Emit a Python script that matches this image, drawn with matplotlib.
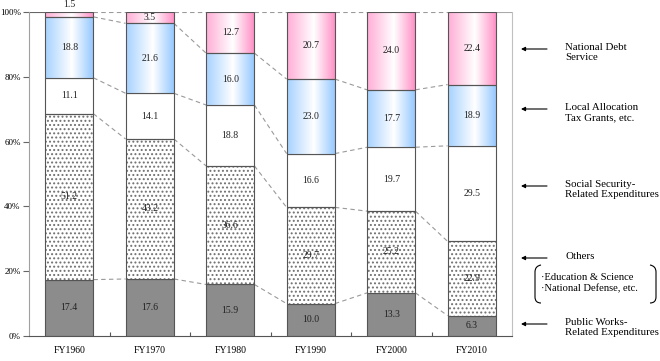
import numpy as np
import matplotlib
matplotlib.use('Agg')
import matplotlib.pyplot as plt
from matplotlib.colors import LinearSegmentedColormap
from matplotlib.path import Path
from matplotlib.patches import PathPatch

categories = ['FY1960', 'FY1970', 'FY1980', 'FY1990', 'FY2000', 'FY2010']
public_works = [17.4, 17.6, 15.9, 10.0, 13.3, 6.3]
others = [51.2, 43.2, 36.6, 29.7, 25.2, 22.9]
social_security = [11.1, 14.1, 18.8, 16.6, 19.7, 29.5]
local_allocation = [18.8, 21.6, 16.0, 23.0, 17.7, 18.9]
debt_service = [1.5, 3.5, 12.7, 20.7, 24.0, 22.4]
yticks = [0, 20, 40, 60, 80, 100]
legend_labels = ['National Debt\nService', 'Local Allocation\nTax Grants, etc.',
                 'Social Security-\nRelated Expenditures', 'Others',
                 'Public Works-\nRelated Expenditures']
others_detail = ['·Education & Science', '·National Defense, etc.']

plt.rcParams['font.family'] = ['Liberation Serif', 'DejaVu Serif']
plt.rcParams['hatch.linewidth'] = 0.9

fig = plt.figure(figsize=(6.6, 3.61), dpi=100)
ax = fig.add_axes([29 / 660, 25 / 361, 483 / 660, 324 / 361])

x = np.arange(len(categories))
w = 0.6
data = np.array([public_works, others, social_security, local_allocation, debt_service])
pct = data / data.sum(axis=0) * 100
tops = np.cumsum(pct, axis=0)
bottoms = tops - pct

edge = '#555555'
blue_cmap = LinearSegmentedColormap.from_list('b', [(0, '#a6d2ff'), (0.55, '#ffffff'), (1, '#92c6ff')])
pink_cmap = LinearSegmentedColormap.from_list('p', [(0, '#ffadd6'), (0.55, '#ffffff'), (1, '#ff8cc4')])
grad = np.linspace(0, 1, 256).reshape(1, -1)

# Public works (gray)
ax.bar(x, pct[0], w, bottom=bottoms[0], color='#8c8c8c', edgecolor=edge, linewidth=0.8, zorder=2)
# Others (dotted)
ax.bar(x, pct[1], w, bottom=bottoms[1], color='white', hatch='....', edgecolor='#707070', linewidth=0, zorder=2)
ax.bar(x, pct[1], w, bottom=bottoms[1], fill=False, edgecolor=edge, linewidth=0.8, zorder=3)
# Social security (white)
ax.bar(x, pct[2], w, bottom=bottoms[2], color='white', edgecolor=edge, linewidth=0.8, zorder=2)
# Gradients
for k, cmap in [(3, blue_cmap), (4, pink_cmap)]:
    for i in range(len(x)):
        ax.imshow(grad, extent=[x[i] - w / 2, x[i] + w / 2, bottoms[k, i], tops[k, i]],
                  aspect='auto', cmap=cmap, interpolation='bilinear', zorder=2)
    ax.bar(x, pct[k], w, bottom=bottoms[k], fill=False, edgecolor=edge, linewidth=0.8, zorder=3)

# Value labels
for k in range(5):
    for i in range(len(x)):
        val = data[k, i]
        if pct[k, i] < 2.5:
            yy = tops[k, i] + 2.2
        else:
            yy = bottoms[k, i] + pct[k, i] / 2
        ax.text(x[i], yy, f'{val:.1f}', ha='center', va='center', fontsize=7,
                color='#222222', zorder=5, clip_on=False)

# Connector lines
for i in range(len(x) - 1):
    for k in range(5):
        ax.plot([x[i] + w / 2, x[i + 1] - w / 2], [tops[k, i], tops[k, i + 1]],
                ls=(0, (4, 3)), color='#9a9a9a', lw=0.8, zorder=1)

ax.plot([-0.5, x[0] - w / 2], [100, 100], color='#666666', lw=0.8, zorder=1)
ax.plot([x[-1] + w / 2, 5.5], [100, 100], color='#aaaaaa', lw=0.8, zorder=1)

ax.set_xlim(-0.5, 5.5)
ax.set_ylim(0, 100)
ax.set_yticks(yticks)
ax.set_yticklabels([f'{t}%' for t in yticks], fontsize=6.5)
ax.tick_params(axis='y', direction='out', length=4, pad=2, width=0.8, color='#666666')
ax.set_xticks(x)
ax.set_xticklabels(categories, fontsize=7)
ax.tick_params(axis='x', which='major', length=0, pad=7)
ax.set_xticks(x[:-1] + 0.5, minor=True)
ax.tick_params(axis='x', which='minor', direction='in', length=3, width=0.8, color='#555555')
ax.spines['top'].set_visible(False)
ax.spines['left'].set_color('#a0a0a0')
ax.spines['right'].set_color('#c0c0c0')
ax.spines['bottom'].set_color('#555555')
for s in ax.spines.values():
    s.set_linewidth(0.8)

# Right side annotations (pixel coordinate overlay)
ov = fig.add_axes([0, 0, 1, 1])
ov.set_xlim(0, 660)
ov.set_ylim(361, 0)
ov.axis('off')

arrow_y = [49, 109, 186, 258, 324]
for lab, yy in zip(legend_labels, arrow_y):
    ov.annotate('', xy=(521, yy), xytext=(547, yy),
                arrowprops=dict(arrowstyle='-|>', color='black', lw=0.8,
                                mutation_scale=6, shrinkA=0, shrinkB=0))
    ov.text(565, yy - 6, lab, ha='left', va='top', fontsize=7.8, linespacing=1.15)

ov.text(541, 278, others_detail[0], ha='left', va='center', fontsize=7.6)
ov.text(541, 289, others_detail[1], ha='left', va='center', fontsize=7.6)

verts_l = [(541, 265), (535, 266), (535, 272), (535, 297), (535, 303), (541, 303)]
codes = [Path.MOVETO, Path.CURVE3, Path.CURVE3, Path.LINETO, Path.CURVE3, Path.CURVE3]
ov.add_patch(PathPatch(Path(verts_l, codes), fill=False, lw=0.8, color='black'))
verts_r = [(650, 265), (656, 266), (656, 272), (656, 297), (656, 303), (650, 303)]
ov.add_patch(PathPatch(Path(verts_r, codes), fill=False, lw=0.8, color='black'))

fig.savefig('out.png', dpi=100)
